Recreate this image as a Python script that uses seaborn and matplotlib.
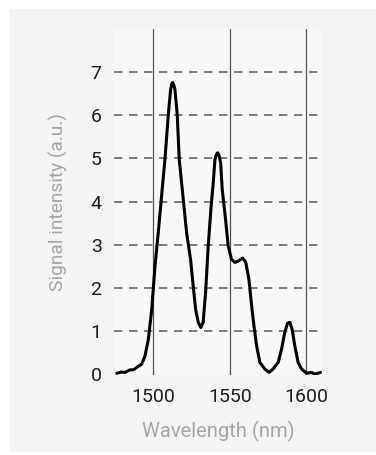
import pandas as pd
import seaborn as sns
import matplotlib.pyplot as plt
from matplotlib.patches import Rectangle

# Spectrum
wavelength = [1476.4, 1479.6, 1481.8, 1485.0, 1487.2, 1490.4, 1492.6, 1494.8, 1497.0, 1499.2,
              1501.3, 1503.5, 1506.0, 1507.8, 1510.0, 1511.5, 1512.3, 1512.8, 1513.4, 1514.3,
              1515.8, 1517.1, 1519.1, 1521.9, 1524.5, 1526.2, 1527.8, 1529.5, 1531.2, 1532.7,
              1534.3, 1536.0, 1537.8, 1539.3, 1540.4, 1541.4, 1542.1, 1542.9, 1544.1, 1545.1,
              1547.3, 1549.0, 1551.2, 1553.4, 1555.5, 1558.4, 1560.5, 1562.5, 1564.3, 1565.8,
              1567.5, 1569.7, 1572.9, 1575.7, 1578.3, 1581.6, 1583.8, 1585.9, 1587.7, 1589.2,
              1590.7, 1592.4, 1594.6, 1596.8, 1600.1, 1603.3, 1605.5, 1609.2]
intensity = [0.02, 0.05, 0.04, 0.10, 0.10, 0.18, 0.23, 0.42, 0.81, 1.50,
             2.50, 3.30, 4.28, 4.98, 6.02, 6.60, 6.73, 6.76, 6.72, 6.60,
             6.02, 4.98, 4.28, 3.28, 2.66, 2.05, 1.50, 1.20, 1.08, 1.20,
             1.90, 2.97, 3.85, 4.45, 4.98, 5.10, 5.13, 5.09, 4.90, 4.29,
             3.59, 2.97, 2.66, 2.59, 2.62, 2.69, 2.59, 2.20, 1.58, 1.12,
             0.66, 0.27, 0.12, 0.04, 0.12, 0.27, 0.58, 0.97, 1.18, 1.20,
             1.04, 0.66, 0.27, 0.12, 0.02, 0.04, 0.00, 0.04]
x_ticks = [1500, 1550, 1600]
y_ticks = [0, 1, 2, 3, 4, 5, 6, 7]

df = pd.DataFrame({"wavelength": wavelength, "intensity": intensity})

sns.set_style("white")
plt.rcParams['font.family'] = ['Roboto', 'DejaVu Sans']

fig = plt.figure(figsize=(3.76, 4.55), dpi=100)
fig.patch.set_facecolor("white")
# light grey card behind the chart
card = Rectangle((10 / 376, 3 / 455), 1 - 10 / 376, 443 / 455,
                 transform=fig.transFigure, facecolor="#f4f4f4",
                 edgecolor="none", zorder=-10)
fig.add_artist(card)

ax = fig.add_axes([114 / 376, 80 / 455, 209 / 376, 346 / 455])
ax.set_zorder(1)
ax.set_facecolor("#f8f8f8")

sns.lineplot(data=df, x="wavelength", y="intensity", color="black", linewidth=2.2, ax=ax, zorder=3)

ax.set_xlim(1474.6, 1610.8)
ax.set_ylim(-0.02, 8.0)
ax.set_xticks(x_ticks)
ax.set_yticks(y_ticks)

for v in x_ticks:
    ax.axvline(v, color="#555555", linewidth=0.9, zorder=1)
for v in y_ticks[1:]:
    ax.axhline(v, color="#666666", linewidth=1.2, linestyle=(0, (5, 4)), zorder=1)

for s in ax.spines.values():
    s.set_visible(False)
ax.tick_params(axis="both", length=0, labelsize=14, labelcolor="#1e1e1e")
ax.tick_params(axis="y", pad=9)
ax.tick_params(axis="x", pad=9)

ax.set_xlabel("Wavelength (nm)", fontsize=14.5, color="#a6a6a6", labelpad=11)
ax.set_ylabel("Signal intensity (a.u.)", fontsize=13.8, color="#a6a6a6", labelpad=16)

fig.savefig("out.png", dpi=100, facecolor=fig.get_facecolor())
